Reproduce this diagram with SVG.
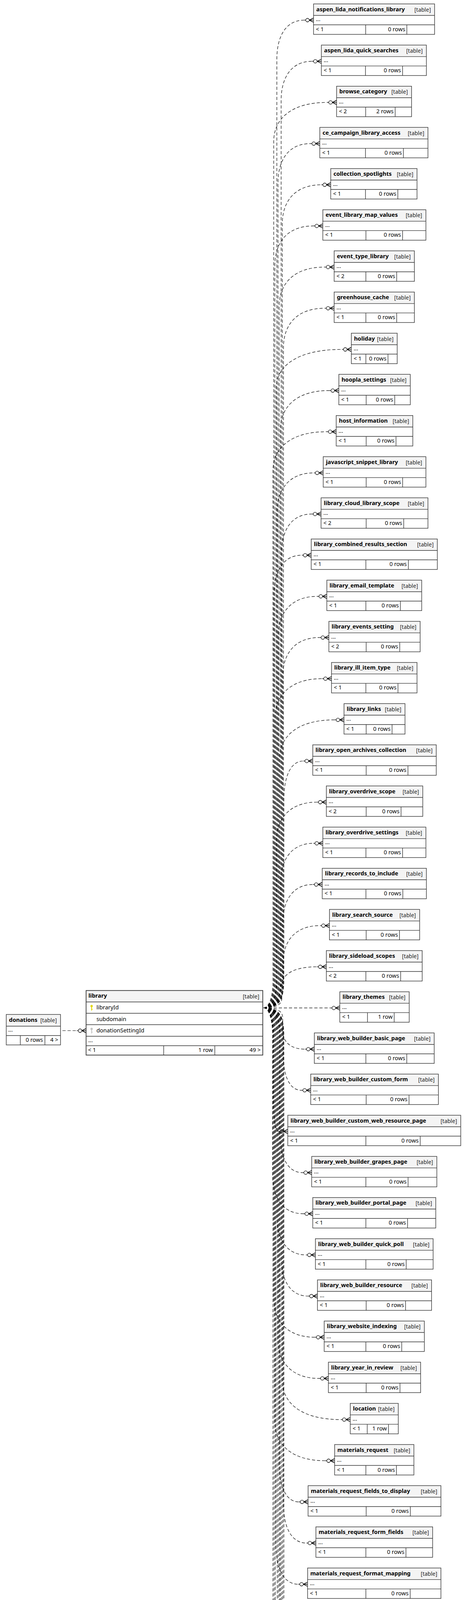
<svg xmlns="http://www.w3.org/2000/svg" xmlns:xlink="http://www.w3.org/1999/xlink" width="1196" height="5415" viewBox="0 0 1196 5415">
<style>
text{font-family:"Noto Sans","Open Sans","DejaVu Sans",sans-serif;fill:#000}
.h{fill:#f4f4f4}
.b{fill:none;stroke:#333;stroke-width:1.4}
.bb{fill:none;stroke:#000;stroke-width:3}
.bl{fill:none;stroke:#333;stroke-width:1.8}
.l{fill:none;stroke:#333;stroke-width:1.4}
.n{font-weight:bold;font-size:14.5px}
.t{font-size:14px;text-anchor:end;fill:#222}
.r{font-size:14.4px}
.e{text-anchor:end}
.edge{fill:none;stroke:#000;stroke-width:1.2;stroke-dasharray:8 5;marker-end:url(#crow)}
.pk{fill:#e2d600}
.fk{fill:#c4c4c4}
.gen{font-size:14.6px}
</style>
<defs>
<marker id="crow" markerUnits="userSpaceOnUse" markerWidth="30" markerHeight="20" refX="0" refY="10" orient="auto" overflow="visible">
<path d="M0 10H4" fill="none" stroke="#000" stroke-width="1.3" stroke-dasharray="none"/>
<circle cx="8.5" cy="10" r="4.5" fill="#fff" stroke="#000" stroke-width="1.3" stroke-dasharray="none"/>
<path d="M13 10L24 4.5M13 10L24 10M13 10L24 15.5" fill="none" stroke="#000" stroke-width="1.6" stroke-dasharray="none"/>
</marker>
<g id="key"><circle cx="0" cy="3" r="3"/><rect x="-1.1" y="5" width="2.2" height="9.5"/><rect x="1" y="10.5" width="1.8" height="1.6"/></g>
</defs>
<rect width="1196" height="5415" fill="#fff"/>

<g id="edges">
<path class="edge" d="M160 2638.5L196.5 2638.5"/>
<path class="edge" d="M675 2580C699 2580 709 2552 709 2510L709 151.5C709 96.5 730 51.5 779 51.5"/>
<path class="edge" d="M675 2580C710 2580 720 2552 720 2510L720 256.9C720 201.9 743.7 156.9 799 156.9"/>
<path class="edge" d="M675 2580C691 2580 701 2552 701 2510L701 362.2C701 307.2 742.1 262.2 838 262.2"/>
<path class="edge" d="M675 2580C702 2580 712 2552 712 2510L712 467.6C712 412.6 736.9 367.6 795 367.6"/>
<path class="edge" d="M675 2580C713 2580 723 2552 723 2510L723 573C723 518 753 473 823 473"/>
<path class="edge" d="M675 2580C694 2580 704 2552 704 2510L704 678.4C704 623.4 733.6 578.4 802.7 578.4"/>
<path class="edge" d="M675 2580C705 2580 715 2552 715 2510L715 783.7C715 728.7 750 683.7 831.7 683.7"/>
<path class="edge" d="M675 2580C716 2580 726 2552 726 2510L726 889.1C726 834.1 757.7 789.1 831.7 789.1"/>
<path class="edge" d="M675 2580C697 2580 707 2552 707 2510L707 994.5C707 939.5 757.6 894.5 875.7 894.5"/>
<path class="edge" d="M675 2580C708 2580 718 2552 718 2510L718 1099.8C718 1044.8 755.7 999.8 843.7 999.8"/>
<path class="edge" d="M675 2580C689 2580 699 2552 699 2510L699 1205.2C699 1150.2 740.4 1105.2 837 1105.2"/>
<path class="edge" d="M675 2580C700 2580 710 2552 710 2510L710 1310.6C710 1255.6 738.1 1210.6 803.7 1210.6"/>
<path class="edge" d="M675 2580C711 2580 721 2552 721 2510L721 1415.9C721 1360.9 744.2 1315.9 798.3 1315.9"/>
<path class="edge" d="M675 2580C692 2580 702 2552 702 2510L702 1521.3C702 1466.3 723.3 1421.3 773 1421.3"/>
<path class="edge" d="M675 2580C703 2580 713 2552 713 2510L713 1626.7C713 1571.7 743 1526.7 813 1526.7"/>
<path class="edge" d="M675 2580C714 2580 724 2552 724 2510L724 1732.1C724 1677.1 752.3 1632.1 818.3 1632.1"/>
<path class="edge" d="M675 2580C695 2580 705 2552 705 2510L705 1837.4C705 1782.4 741 1737.4 825 1737.4"/>
<path class="edge" d="M675 2580C706 2580 716 2552 716 2510L716 1942.8C716 1887.8 758.3 1842.8 857 1842.8"/>
<path class="edge" d="M675 2580C717 2580 727 2552 727 2510L727 2048.2C727 1993.2 742 1948.2 777 1948.2"/>
<path class="edge" d="M675 2580C698 2580 708 2552 708 2510L708 2153.5C708 2098.5 739.1 2053.5 811.7 2053.5"/>
<path class="edge" d="M675 2580C709 2580 719 2552 719 2510L719 2258.9C719 2203.9 744.1 2158.9 802.7 2158.9"/>
<path class="edge" d="M675 2580C714 2580 724 2552 724 2510L724 2364.3C724 2309.3 747.2 2264.3 801.3 2264.3"/>
<path class="edge" d="M675 2580C715 2580 725 2559 725 2527.4L725 2464.3C725 2412.2 753.4 2369.6 819.7 2369.6"/>
<path class="edge" d="M675 2580C712 2580 722 2569.5 722 2553.8L722 2522.2C722 2496.2 748.9 2475 811.7 2475"/>
<path class="edge" d="M675 2580.4L846.3 2580.4"/>
<path class="edge" d="M675 2580C714 2580 724 2590.5 724 2606.3L724 2638.4C724 2664.4 741.1 2685.8 781 2685.8"/>
<path class="edge" d="M675 2580C715 2580 725 2601.1 725 2632.7L725 2696.3C725 2748.4 739 2791.1 771.7 2791.1"/>
<path class="edge" d="M675 2580C690 2580 700 2608 700 2650L700 2796.5C700 2851.5 703.9 2896.5 713 2896.5"/>
<path class="edge" d="M675 2580C707 2580 717 2608 717 2650L717 2901.9C717 2956.9 734.2 3001.9 774.3 3001.9"/>
<path class="edge" d="M675 2580C688 2580 698 2608 698 2650L698 3007.2C698 3062.2 721.7 3107.2 777 3107.2"/>
<path class="edge" d="M675 2580C699 2580 709 2608 709 2650L709 3112.6C709 3167.6 731.4 3212.6 783.7 3212.6"/>
<path class="edge" d="M675 2580C710 2580 720 2608 720 2650L720 3218C720 3273 740.7 3318 789 3318"/>
<path class="edge" d="M675 2580C691 2580 701 2608 701 2650L701 3323.3C701 3378.3 732.6 3423.3 806.3 3423.3"/>
<path class="edge" d="M675 2580C702 2580 712 2608 712 2650L712 3428.7C712 3483.7 743.5 3528.7 817 3528.7"/>
<path class="edge" d="M675 2580C713 2580 723 2608 723 2650L723 3534.1C723 3589.1 768 3634.1 873 3634.1"/>
<path class="edge" d="M675 2580C694 2580 704 2608 704 2650L704 3639.5C704 3694.5 742.7 3739.5 833 3739.5"/>
<path class="edge" d="M675 2580C705 2580 715 2608 715 2650L715 3744.8C715 3799.8 730 3844.8 765 3844.8"/>
<path class="edge" d="M675 2580C716 2580 726 2608 726 2650L726 3850.2C726 3905.2 743.7 3950.2 785 3950.2"/>
<path class="edge" d="M675 2580C697 2580 707 2608 707 2650L707 3955.6C707 4010.6 724 4055.6 763.7 4055.6"/>
<path class="edge" d="M675 2580C708 2580 718 2608 718 2650L718 4094.6C718 4149.6 723.5 4194.6 736.3 4194.6"/>
<path class="edge" d="M675 2580C689 2580 699 2608 699 2650L699 4381.5C699 4436.5 730.8 4481.5 805 4481.5"/>
<path class="edge" d="M675 2580C700 2580 710 2608 710 2650L710 4486.9C710 4541.9 738.9 4586.9 806.3 4586.9"/>
<path class="edge" d="M675 2580C711 2580 721 2608 721 2650L721 4592.2C721 4647.2 735.4 4692.2 769 4692.2"/>
<path class="edge" d="M675 2580C692 2580 702 2608 702 2650L702 4697.6C702 4752.6 745.3 4797.6 846.3 4797.6"/>
<path class="edge" d="M675 2580C703 2580 713 2608 713 2650L713 4803C713 4858 753 4903 846.3 4903"/>
<path class="edge" d="M675 2580C714 2580 724 2608 724 2650L724 4908.4C724 4963.4 749.5 5008.4 809 5008.4"/>
<path class="edge" d="M675 2580C695 2580 705 2608 705 2650L705 5013.7C705 5068.7 719.4 5113.7 753 5113.7"/>
<path class="edge" d="M675 2580C706 2580 716 2608 716 2650L716 5119.1C716 5174.1 730.7 5219.1 765 5219.1"/>
<path class="edge" d="M675 2580C717 2580 727 2608 727 2650L727 5224.5C727 5279.5 736.8 5324.5 759.7 5324.5"/>
</g>

<g id="donations">
<rect class="h" x="16" y="2597" width="139" height="30"/>
<rect class="b" x="16" y="2597" width="139" height="78"/>
<path class="l" d="M16 2627H155M16 2651H155M52 2651V2675M115 2651V2675"/>
<text class="n" x="23" y="2615.5">donations</text>
<text class="t" x="145.5" y="2617">[table]</text>
<text class="r" x="21" y="2641">...</text>
<text class="r e" x="110" y="2666.5">0 rows</text>
<text class="r e" x="149" y="2666.5">4 &gt;</text>
</g>

<g id="library">
<rect class="h" x="220.5" y="2535.7" width="452.5" height="29.3"/>
<rect class="bl" x="220.5" y="2535.7" width="452.5" height="165.3"/>
<path class="l" d="M220.5 2565H673M220.5 2594H673M220.5 2623.3H673M220.5 2652.7H673M220.5 2677H673M419.3 2677V2701M550.2 2677V2701"/>
<text class="n" x="226.5" y="2554">library</text>
<text class="t" x="664" y="2555.5">[table]</text>
<use xlink:href="#key" x="234.6" y="2572.5" class="pk"/>
<text class="r" x="247" y="2584">libraryId</text>
<text class="r" x="247" y="2613.5">subdomain</text>
<use xlink:href="#key" x="234.6" y="2631" class="fk"/>
<text class="r" x="247" y="2643">donationSettingId</text>
<text class="r" x="226" y="2668">...</text>
<text class="r" x="225.5" y="2693">&lt; 1</text>
<text class="r e" x="545.3" y="2693">1 row</text>
<text class="r e" x="667.5" y="2693">49 &gt;</text>
</g>

<g id="t1" transform="translate(803,10)"><rect class="h" width="310" height="29.5"/><rect class="b" width="310" height="78"/><path class="l" d="M0 29.5H310M0 53.5H310M133.5 53.5V78M238.9 53.5V78"/><text class="n" x="7" y="18.5">aspen_lida_notifications_library</text><text class="t" x="300.5" y="19.5">[table]</text><text class="r" x="6" y="44">...</text><text class="r" x="6" y="69.5">&lt; 1</text><text class="r e" x="234.9" y="69.5">0 rows</text></g>
<g id="t2" transform="translate(823,115.4)"><rect class="h" width="269" height="29.5"/><rect class="b" width="269" height="78"/><path class="l" d="M0 29.5H269M0 53.5H269M113 53.5V78M208 53.5V78"/><text class="n" x="7" y="18.5">aspen_lida_quick_searches</text><text class="t" x="259.5" y="19.5">[table]</text><text class="r" x="6" y="44">...</text><text class="r" x="6" y="69.5">&lt; 1</text><text class="r e" x="204" y="69.5">0 rows</text></g>
<g id="t3" transform="translate(862,220.7)"><rect class="h" width="192" height="29.5"/><rect class="b" width="192" height="78"/><path class="l" d="M0 29.5H192M0 53.5H192M74.5 53.5V78M150 53.5V78"/><text class="n" x="7" y="18.5">browse_category</text><text class="t" x="182.5" y="19.5">[table]</text><text class="r" x="6" y="44">...</text><text class="r" x="6" y="69.5">&lt; 2</text><text class="r e" x="146" y="69.5">2 rows</text></g>
<g id="t4" transform="translate(819,326.1)"><rect class="h" width="277" height="29.5"/><rect class="b" width="277" height="78"/><path class="l" d="M0 29.5H277M0 53.5H277M117 53.5V78M214.1 53.5V78"/><text class="n" x="7" y="18.5">ce_campaign_library_access</text><text class="t" x="267.5" y="19.5">[table]</text><text class="r" x="6" y="44">...</text><text class="r" x="6" y="69.5">&lt; 1</text><text class="r e" x="210.1" y="69.5">0 rows</text></g>
<g id="t5" transform="translate(847,431.5)"><rect class="h" width="221" height="29.5"/><rect class="b" width="221" height="78"/><path class="l" d="M0 29.5H221M0 53.5H221M89 53.5V78M171.8 53.5V78"/><text class="n" x="7" y="18.5">collection_spotlights</text><text class="t" x="211.5" y="19.5">[table]</text><text class="r" x="6" y="44">...</text><text class="r" x="6" y="69.5">&lt; 1</text><text class="r e" x="167.8" y="69.5">0 rows</text></g>
<g id="t6" transform="translate(826.7,536.9)"><rect class="h" width="264" height="29.5"/><rect class="b" width="264" height="78"/><path class="l" d="M0 29.5H264M0 53.5H264M110.5 53.5V78M204.3 53.5V78"/><text class="n" x="7" y="18.5">event_library_map_values</text><text class="t" x="254.5" y="19.5">[table]</text><text class="r" x="6" y="44">...</text><text class="r" x="6" y="69.5">&lt; 1</text><text class="r e" x="200.3" y="69.5">0 rows</text></g>
<g id="t7" transform="translate(855.7,642.2)"><rect class="h" width="205.6" height="29.5"/><rect class="b" width="205.6" height="78"/><path class="l" d="M0 29.5H205.6M0 53.5H205.6M81.3 53.5V78M160.2 53.5V78"/><text class="n" x="7" y="18.5">event_type_library</text><text class="t" x="196.1" y="19.5">[table]</text><text class="r" x="6" y="44">...</text><text class="r" x="6" y="69.5">&lt; 2</text><text class="r e" x="156.2" y="69.5">0 rows</text></g>
<g id="t8" transform="translate(855.7,747.6)"><rect class="h" width="205.6" height="29.5"/><rect class="b" width="205.6" height="78"/><path class="l" d="M0 29.5H205.6M0 53.5H205.6M81.3 53.5V78M160.2 53.5V78"/><text class="n" x="7" y="18.5">greenhouse_cache</text><text class="t" x="196.1" y="19.5">[table]</text><text class="r" x="6" y="44">...</text><text class="r" x="6" y="69.5">&lt; 1</text><text class="r e" x="156.2" y="69.5">0 rows</text></g>
<g id="t9" transform="translate(899.7,853)"><rect class="h" width="117.6" height="29.5"/><rect class="b" width="117.6" height="78"/><path class="l" d="M0 29.5H117.6M0 53.5H117.6M37.3 53.5V78M93.9 53.5V78"/><text class="n" x="7" y="18.5">holiday</text><text class="t" x="108.1" y="19.5">[table]</text><text class="r" x="6" y="44">...</text><text class="r" x="6" y="69.5">&lt; 1</text><text class="r e" x="89.9" y="69.5">0 rows</text></g>
<g id="t10" transform="translate(867.7,958.3)"><rect class="h" width="183" height="29.5"/><rect class="b" width="183" height="78"/><path class="l" d="M0 29.5H183M0 53.5H183M70 53.5V78M143.2 53.5V78"/><text class="n" x="7" y="18.5">hoopla_settings</text><text class="t" x="173.5" y="19.5">[table]</text><text class="r" x="6" y="44">...</text><text class="r" x="6" y="69.5">&lt; 1</text><text class="r e" x="139.2" y="69.5">0 rows</text></g>
<g id="t11" transform="translate(861,1063.7)"><rect class="h" width="196.3" height="29.5"/><rect class="b" width="196.3" height="78"/><path class="l" d="M0 29.5H196.3M0 53.5H196.3M76.7 53.5V78M153.2 53.5V78"/><text class="n" x="7" y="18.5">host_information</text><text class="t" x="186.8" y="19.5">[table]</text><text class="r" x="6" y="44">...</text><text class="r" x="6" y="69.5">&lt; 1</text><text class="r e" x="149.2" y="69.5">0 rows</text></g>
<g id="t12" transform="translate(827.7,1169.1)"><rect class="h" width="263" height="29.5"/><rect class="b" width="263" height="78"/><path class="l" d="M0 29.5H263M0 53.5H263M110 53.5V78M203.5 53.5V78"/><text class="n" x="7" y="18.5">javascript_snippet_library</text><text class="t" x="253.5" y="19.5">[table]</text><text class="r" x="6" y="44">...</text><text class="r" x="6" y="69.5">&lt; 1</text><text class="r e" x="199.5" y="69.5">0 rows</text></g>
<g id="t13" transform="translate(822.3,1274.4)"><rect class="h" width="273.7" height="29.5"/><rect class="b" width="273.7" height="78"/><path class="l" d="M0 29.5H273.7M0 53.5H273.7M115.4 53.5V78M211.6 53.5V78"/><text class="n" x="7" y="18.5">library_cloud_library_scope</text><text class="t" x="264.2" y="19.5">[table]</text><text class="r" x="6" y="44">...</text><text class="r" x="6" y="69.5">&lt; 2</text><text class="r e" x="207.6" y="69.5">0 rows</text></g>
<g id="t14" transform="translate(797,1379.8)"><rect class="h" width="323" height="29.5"/><rect class="b" width="323" height="78"/><path class="l" d="M0 29.5H323M0 53.5H323M140 53.5V78M248.7 53.5V78"/><text class="n" x="7" y="18.5">library_combined_results_section</text><text class="t" x="313.5" y="19.5">[table]</text><text class="r" x="6" y="44">...</text><text class="r" x="6" y="69.5">&lt; 1</text><text class="r e" x="244.7" y="69.5">0 rows</text></g>
<g id="t15" transform="translate(837,1485.2)"><rect class="h" width="243" height="29.5"/><rect class="b" width="243" height="78"/><path class="l" d="M0 29.5H243M0 53.5H243M100 53.5V78M188.4 53.5V78"/><text class="n" x="7" y="18.5">library_email_template</text><text class="t" x="233.5" y="19.5">[table]</text><text class="r" x="6" y="44">...</text><text class="r" x="6" y="69.5">&lt; 1</text><text class="r e" x="184.4" y="69.5">0 rows</text></g>
<g id="t16" transform="translate(842.3,1590.6)"><rect class="h" width="233.7" height="29.5"/><rect class="b" width="233.7" height="78"/><path class="l" d="M0 29.5H233.7M0 53.5H233.7M95.4 53.5V78M181.4 53.5V78"/><text class="n" x="7" y="18.5">library_events_setting</text><text class="t" x="224.2" y="19.5">[table]</text><text class="r" x="6" y="44">...</text><text class="r" x="6" y="69.5">&lt; 2</text><text class="r e" x="177.4" y="69.5">0 rows</text></g>
<g id="t17" transform="translate(849,1695.9)"><rect class="h" width="219" height="29.5"/><rect class="b" width="219" height="78"/><path class="l" d="M0 29.5H219M0 53.5H219M88 53.5V78M170.3 53.5V78"/><text class="n" x="7" y="18.5">library_ill_item_type</text><text class="t" x="209.5" y="19.5">[table]</text><text class="r" x="6" y="44">...</text><text class="r" x="6" y="69.5">&lt; 1</text><text class="r e" x="166.3" y="69.5">0 rows</text></g>
<g id="t18" transform="translate(881,1801.3)"><rect class="h" width="156.3" height="29.5"/><rect class="b" width="156.3" height="78"/><path class="l" d="M0 29.5H156.3M0 53.5H156.3M56.7 53.5V78M123.1 53.5V78"/><text class="n" x="7" y="18.5">library_links</text><text class="t" x="146.8" y="19.5">[table]</text><text class="r" x="6" y="44">...</text><text class="r" x="6" y="69.5">&lt; 1</text><text class="r e" x="119.1" y="69.5">0 rows</text></g>
<g id="t19" transform="translate(801,1906.7)"><rect class="h" width="316.3" height="29.5"/><rect class="b" width="316.3" height="78"/><path class="l" d="M0 29.5H316.3M0 53.5H316.3M136.7 53.5V78M243.7 53.5V78"/><text class="n" x="7" y="18.5">library_open_archives_collection</text><text class="t" x="306.8" y="19.5">[table]</text><text class="r" x="6" y="44">...</text><text class="r" x="6" y="69.5">&lt; 1</text><text class="r e" x="239.7" y="69.5">0 rows</text></g>
<g id="t20" transform="translate(835.7,2012)"><rect class="h" width="247" height="29.5"/><rect class="b" width="247" height="78"/><path class="l" d="M0 29.5H247M0 53.5H247M102 53.5V78M191.4 53.5V78"/><text class="n" x="7" y="18.5">library_overdrive_scope</text><text class="t" x="237.5" y="19.5">[table]</text><text class="r" x="6" y="44">...</text><text class="r" x="6" y="69.5">&lt; 2</text><text class="r e" x="187.4" y="69.5">0 rows</text></g>
<g id="t21" transform="translate(826.7,2117.4)"><rect class="h" width="264" height="29.5"/><rect class="b" width="264" height="78"/><path class="l" d="M0 29.5H264M0 53.5H264M110.5 53.5V78M204.3 53.5V78"/><text class="n" x="7" y="18.5">library_overdrive_settings</text><text class="t" x="254.5" y="19.5">[table]</text><text class="r" x="6" y="44">...</text><text class="r" x="6" y="69.5">&lt; 1</text><text class="r e" x="200.3" y="69.5">0 rows</text></g>
<g id="t22" transform="translate(825.3,2222.8)"><rect class="h" width="266.7" height="29.5"/><rect class="b" width="266.7" height="78"/><path class="l" d="M0 29.5H266.7M0 53.5H266.7M111.9 53.5V78M206.3 53.5V78"/><text class="n" x="7" y="18.5">library_records_to_include</text><text class="t" x="257.2" y="19.5">[table]</text><text class="r" x="6" y="44">...</text><text class="r" x="6" y="69.5">&lt; 1</text><text class="r e" x="202.3" y="69.5">0 rows</text></g>
<g id="t23" transform="translate(843.7,2328.1)"><rect class="h" width="231" height="29.5"/><rect class="b" width="231" height="78"/><path class="l" d="M0 29.5H231M0 53.5H231M94 53.5V78M179.4 53.5V78"/><text class="n" x="7" y="18.5">library_search_source</text><text class="t" x="221.5" y="19.5">[table]</text><text class="r" x="6" y="44">...</text><text class="r" x="6" y="69.5">&lt; 1</text><text class="r e" x="175.4" y="69.5">0 rows</text></g>
<g id="t24" transform="translate(835.7,2433.5)"><rect class="h" width="245.6" height="29.5"/><rect class="b" width="245.6" height="78"/><path class="l" d="M0 29.5H245.6M0 53.5H245.6M101.3 53.5V78M190.4 53.5V78"/><text class="n" x="7" y="18.5">library_sideload_scopes</text><text class="t" x="236.1" y="19.5">[table]</text><text class="r" x="6" y="44">...</text><text class="r" x="6" y="69.5">&lt; 2</text><text class="r e" x="186.4" y="69.5">0 rows</text></g>
<g id="t25" transform="translate(870.3,2538.9)"><rect class="h" width="177.7" height="29.5"/><rect class="b" width="177.7" height="78"/><path class="l" d="M0 29.5H177.7M0 53.5H177.7M70.9 53.5V78M139.2 53.5V78"/><text class="n" x="7" y="18.5">library_themes</text><text class="t" x="168.2" y="19.5">[table]</text><text class="r" x="6" y="44">...</text><text class="r" x="6" y="69.5">&lt; 1</text><text class="r e" x="135.2" y="69.5">1 row</text></g>
<g id="t26" transform="translate(805,2644.3)"><rect class="h" width="307" height="29.5"/><rect class="b" width="307" height="78"/><path class="l" d="M0 29.5H307M0 53.5H307M132 53.5V78M236.7 53.5V78"/><text class="n" x="7" y="18.5">library_web_builder_basic_page</text><text class="t" x="297.5" y="19.5">[table]</text><text class="r" x="6" y="44">...</text><text class="r" x="6" y="69.5">&lt; 1</text><text class="r e" x="232.7" y="69.5">0 rows</text></g>
<g id="t27" transform="translate(795.7,2749.6)"><rect class="h" width="327" height="29.5"/><rect class="b" width="327" height="78"/><path class="l" d="M0 29.5H327M0 53.5H327M142 53.5V78M251.8 53.5V78"/><text class="n" x="7" y="18.5">library_web_builder_custom_form</text><text class="t" x="317.5" y="19.5">[table]</text><text class="r" x="6" y="44">...</text><text class="r" x="6" y="69.5">&lt; 1</text><text class="r e" x="247.8" y="69.5">0 rows</text></g>
<g id="t28" transform="translate(737,2855)"><rect class="h" width="443" height="29.5"/><rect class="b" width="443" height="78"/><path class="l" d="M0 29.5H443M0 53.5H443M200 53.5V78M339.2 53.5V78"/><text class="n" x="7" y="18.5">library_web_builder_custom_web_resource_page</text><text class="t" x="433.5" y="19.5">[table]</text><text class="r" x="6" y="44">...</text><text class="r" x="6" y="69.5">&lt; 1</text><text class="r e" x="335.2" y="69.5">0 rows</text></g>
<g id="t29" transform="translate(798.3,2960.4)"><rect class="h" width="320.4" height="29.5"/><rect class="b" width="320.4" height="78"/><path class="l" d="M0 29.5H320.4M0 53.5H320.4M138.7 53.5V78M246.8 53.5V78"/><text class="n" x="7" y="18.5">library_web_builder_grapes_page</text><text class="t" x="310.9" y="19.5">[table]</text><text class="r" x="6" y="44">...</text><text class="r" x="6" y="69.5">&lt; 1</text><text class="r e" x="242.8" y="69.5">0 rows</text></g>
<g id="t30" transform="translate(801,3065.7)"><rect class="h" width="315" height="29.5"/><rect class="b" width="315" height="78"/><path class="l" d="M0 29.5H315M0 53.5H315M136 53.5V78M242.7 53.5V78"/><text class="n" x="7" y="18.5">library_web_builder_portal_page</text><text class="t" x="305.5" y="19.5">[table]</text><text class="r" x="6" y="44">...</text><text class="r" x="6" y="69.5">&lt; 1</text><text class="r e" x="238.7" y="69.5">0 rows</text></g>
<g id="t31" transform="translate(807.7,3171.1)"><rect class="h" width="301.6" height="29.5"/><rect class="b" width="301.6" height="78"/><path class="l" d="M0 29.5H301.6M0 53.5H301.6M129.3 53.5V78M232.6 53.5V78"/><text class="n" x="7" y="18.5">library_web_builder_quick_poll</text><text class="t" x="292.1" y="19.5">[table]</text><text class="r" x="6" y="44">...</text><text class="r" x="6" y="69.5">&lt; 1</text><text class="r e" x="228.6" y="69.5">0 rows</text></g>
<g id="t32" transform="translate(813,3276.5)"><rect class="h" width="292.3" height="29.5"/><rect class="b" width="292.3" height="78"/><path class="l" d="M0 29.5H292.3M0 53.5H292.3M124.7 53.5V78M225.6 53.5V78"/><text class="n" x="7" y="18.5">library_web_builder_resource</text><text class="t" x="282.8" y="19.5">[table]</text><text class="r" x="6" y="44">...</text><text class="r" x="6" y="69.5">&lt; 1</text><text class="r e" x="221.6" y="69.5">0 rows</text></g>
<g id="t33" transform="translate(830.3,3381.8)"><rect class="h" width="256.4" height="29.5"/><rect class="b" width="256.4" height="78"/><path class="l" d="M0 29.5H256.4M0 53.5H256.4M106.7 53.5V78M198.5 53.5V78"/><text class="n" x="7" y="18.5">library_website_indexing</text><text class="t" x="246.9" y="19.5">[table]</text><text class="r" x="6" y="44">...</text><text class="r" x="6" y="69.5">&lt; 1</text><text class="r e" x="194.5" y="69.5">0 rows</text></g>
<g id="t34" transform="translate(841,3487.2)"><rect class="h" width="236.3" height="29.5"/><rect class="b" width="236.3" height="78"/><path class="l" d="M0 29.5H236.3M0 53.5H236.3M96.7 53.5V78M183.4 53.5V78"/><text class="n" x="7" y="18.5">library_year_in_review</text><text class="t" x="226.8" y="19.5">[table]</text><text class="r" x="6" y="44">...</text><text class="r" x="6" y="69.5">&lt; 1</text><text class="r e" x="179.4" y="69.5">0 rows</text></g>
<g id="t35" transform="translate(897,3592.6)"><rect class="h" width="123" height="29.5"/><rect class="b" width="123" height="78"/><path class="l" d="M0 29.5H123M0 53.5H123M43.5 53.5V78M97.9 53.5V78"/><text class="n" x="7" y="18.5">location</text><text class="t" x="113.5" y="19.5">[table]</text><text class="r" x="6" y="44">...</text><text class="r" x="6" y="69.5">&lt; 1</text><text class="r e" x="93.9" y="69.5">1 row</text></g>
<g id="t36" transform="translate(857,3698)"><rect class="h" width="203" height="29.5"/><rect class="b" width="203" height="78"/><path class="l" d="M0 29.5H203M0 53.5H203M80 53.5V78M158.3 53.5V78"/><text class="n" x="7" y="18.5">materials_request</text><text class="t" x="193.5" y="19.5">[table]</text><text class="r" x="6" y="44">...</text><text class="r" x="6" y="69.5">&lt; 1</text><text class="r e" x="154.3" y="69.5">0 rows</text></g>
<g id="t37" transform="translate(789,3803.3)"><rect class="h" width="340.3" height="29.5"/><rect class="b" width="340.3" height="78"/><path class="l" d="M0 29.5H340.3M0 53.5H340.3M148.7 53.5V78M261.8 53.5V78"/><text class="n" x="7" y="18.5">materials_request_fields_to_display</text><text class="t" x="330.8" y="19.5">[table]</text><text class="r" x="6" y="44">...</text><text class="r" x="6" y="69.5">&lt; 1</text><text class="r e" x="257.8" y="69.5">0 rows</text></g>
<g id="t38" transform="translate(809,3908.7)"><rect class="h" width="299" height="29.5"/><rect class="b" width="299" height="78"/><path class="l" d="M0 29.5H299M0 53.5H299M128 53.5V78M230.6 53.5V78"/><text class="n" x="7" y="18.5">materials_request_form_fields</text><text class="t" x="289.5" y="19.5">[table]</text><text class="r" x="6" y="44">...</text><text class="r" x="6" y="69.5">&lt; 1</text><text class="r e" x="226.6" y="69.5">0 rows</text></g>
<g id="t39" transform="translate(787.7,4014.1)"><rect class="h" width="341.6" height="29.5"/><rect class="b" width="341.6" height="78"/><path class="l" d="M0 29.5H341.6M0 53.5H341.6M149.3 53.5V78M262.8 53.5V78"/><text class="n" x="7" y="18.5">materials_request_format_mapping</text><text class="t" x="332.1" y="19.5">[table]</text><text class="r" x="6" y="44">...</text><text class="r" x="6" y="69.5">&lt; 1</text><text class="r e" x="258.8" y="69.5">0 rows</text></g>

<g id="t40" transform="translate(760.3,4119.3)">
<rect class="h" width="396.4" height="31.4"/>
<path class="l" d="M0 31.4H396.4M0 60.7H396.4M0 90H396.4M0 119.3H396.4M0 148.6H396.4M0 177.8H396.4M0 207.1H396.4M0 236.4H396.4M0 265.7H396.4M245 31.4V291.7M111.7 265.7V291.7"/>
<rect class="bb" width="396.4" height="291.7"/>
<text class="n" x="9" y="18.7">materials_request_formats</text>
<text class="t" x="385.7" y="20">[table]</text>
<use xlink:href="#key" x="16.4" y="38.4" class="pk"/>
<use xlink:href="#key" x="16.4" y="67.7" class="fk"/>
<text class="r" x="29" y="50">id</text><text class="r" x="249" y="50">int unsigned[10]</text>
<text class="r" x="29" y="79.3">libraryId</text><text class="r" x="249" y="79.3">int unsigned[10]</text>
<text class="r" x="29" y="108.6">format</text><text class="r" x="249" y="108.6">varchar[30]</text>
<text class="r" x="29" y="137.9">formatLabel</text><text class="r" x="249" y="137.9">varchar[60]</text>
<text class="r" x="29" y="167.2">authorLabel</text><text class="r" x="249" y="167.2">varchar[45]</text>
<text class="r" x="29" y="196.4">weight</text><text class="r" x="249" y="196.4">smallint unsigned[5]</text>
<text class="r" x="29" y="225.7">specialFields</text><text class="r" x="249" y="225.7">set[67]</text>
<text class="r" x="29" y="255">activeForNewRequests</text><text class="r" x="249" y="255">tinyint[3]</text>
<text class="r" x="7.4" y="281.7">&lt; 1</text>
<text class="r e" x="239.7" y="281.7">0 rows</text>
<text class="r e" x="388" y="281.7">0 &gt;</text>
</g>

<g id="t41" transform="translate(829,4440)"><rect class="h" width="259" height="29.5"/><rect class="b" width="259" height="78"/><path class="l" d="M0 29.5H259M0 53.5H259M104 53.5V78M203 53.5V78"/><text class="n" x="7" y="18.5">materials_request_status</text><text class="t" x="249.5" y="19.5">[table]</text><text class="r" x="6" y="44">...</text><text class="r" x="6" y="69.5">&lt; 1</text><text class="r e" x="199" y="69.5">23 rows</text></g>
<g id="t42" transform="translate(830.3,4545.4)"><rect class="h" width="256.4" height="29.5"/><rect class="b" width="256.4" height="78"/><path class="l" d="M0 29.5H256.4M0 53.5H256.4M106.7 53.5V78M198.5 53.5V78"/><text class="n" x="7" y="18.5">materials_request_usage</text><text class="t" x="246.9" y="19.5">[table]</text><text class="r" x="6" y="44">...</text><text class="r" x="6" y="69.5">&lt; 1</text><text class="r e" x="194.5" y="69.5">0 rows</text></g>
<g id="t43" transform="translate(793,4650.7)"><rect class="h" width="331" height="29.5"/><rect class="b" width="331" height="78"/><path class="l" d="M0 29.5H331M0 53.5H331M144 53.5V78M254.8 53.5V78"/><text class="n" x="7" y="18.5">overdrive_api_product_availability</text><text class="t" x="321.5" y="19.5">[table]</text><text class="r" x="6" y="44">...</text><text class="r" x="6" y="69.5">&lt; 1</text><text class="r e" x="250.8" y="69.5">0 rows</text></g>
<g id="t44" transform="translate(870.3,4756.1)"><rect class="h" width="177.7" height="29.5"/><rect class="b" width="177.7" height="78"/><path class="l" d="M0 29.5H177.7M0 53.5H177.7M67.4 53.5V78M139.2 53.5V78"/><text class="n" x="7" y="18.5">placard_library</text><text class="t" x="168.2" y="19.5">[table]</text><text class="r" x="6" y="44">...</text><text class="r" x="6" y="69.5">&lt; 1</text><text class="r e" x="135.2" y="69.5">0 rows</text></g>
<g id="t45" transform="translate(870.3,4861.5)"><rect class="h" width="177.7" height="29.5"/><rect class="b" width="177.7" height="78"/><path class="l" d="M0 29.5H177.7M0 53.5H177.7M67.4 53.5V78M139.2 53.5V78"/><text class="n" x="7" y="18.5">staff_members</text><text class="t" x="168.2" y="19.5">[table]</text><text class="r" x="6" y="44">...</text><text class="r" x="6" y="69.5">&lt; 1</text><text class="r e" x="135.2" y="69.5">0 rows</text></g>
<g id="t46" transform="translate(833,4966.9)"><rect class="h" width="251" height="29.5"/><rect class="b" width="251" height="78"/><path class="l" d="M0 29.5H251M0 53.5H251M104 53.5V78M194.5 53.5V78"/><text class="n" x="7" y="18.5">system_message_library</text><text class="t" x="241.5" y="19.5">[table]</text><text class="r" x="6" y="44">...</text><text class="r" x="6" y="69.5">&lt; 1</text><text class="r e" x="190.5" y="69.5">0 rows</text></g>
<g id="t47" transform="translate(777,5072.2)"><rect class="h" width="364.3" height="29.5"/><rect class="b" width="364.3" height="78"/><path class="l" d="M0 29.5H364.3M0 53.5H364.3M160.7 53.5V78M279.9 53.5V78"/><text class="n" x="7" y="18.5">web_builder_custom_from_submission</text><text class="t" x="354.8" y="19.5">[table]</text><text class="r" x="6" y="44">...</text><text class="r" x="6" y="69.5">&lt; 2</text><text class="r e" x="275.9" y="69.5">0 rows</text></g>
<g id="t48" transform="translate(789,5177.6)"><rect class="h" width="339" height="29.5"/><rect class="b" width="339" height="78"/><path class="l" d="M0 29.5H339M0 53.5H339M148 53.5V78M260.8 53.5V78"/><text class="n" x="7" y="18.5">web_builder_quick_poll_submission</text><text class="t" x="329.5" y="19.5">[table]</text><text class="r" x="6" y="44">...</text><text class="r" x="6" y="69.5">&lt; 2</text><text class="r e" x="256.8" y="69.5">0 rows</text></g>
<g id="t49" transform="translate(783.7,5283)"><rect class="h" width="349.6" height="29.5"/><rect class="b" width="349.6" height="78"/><path class="l" d="M0 29.5H349.6M0 53.5H349.6M153.3 53.5V78M268.8 53.5V78"/><text class="n" x="7" y="18.5">web_builder_resource_access_library</text><text class="t" x="340.1" y="19.5">[table]</text><text class="r" x="6" y="44">...</text><text class="r" x="6" y="69.5">&lt; 1</text><text class="r e" x="264.8" y="69.5">0 rows</text></g>

<text class="gen" x="16" y="5400">Generated by SchemaSpy</text>
</svg>
